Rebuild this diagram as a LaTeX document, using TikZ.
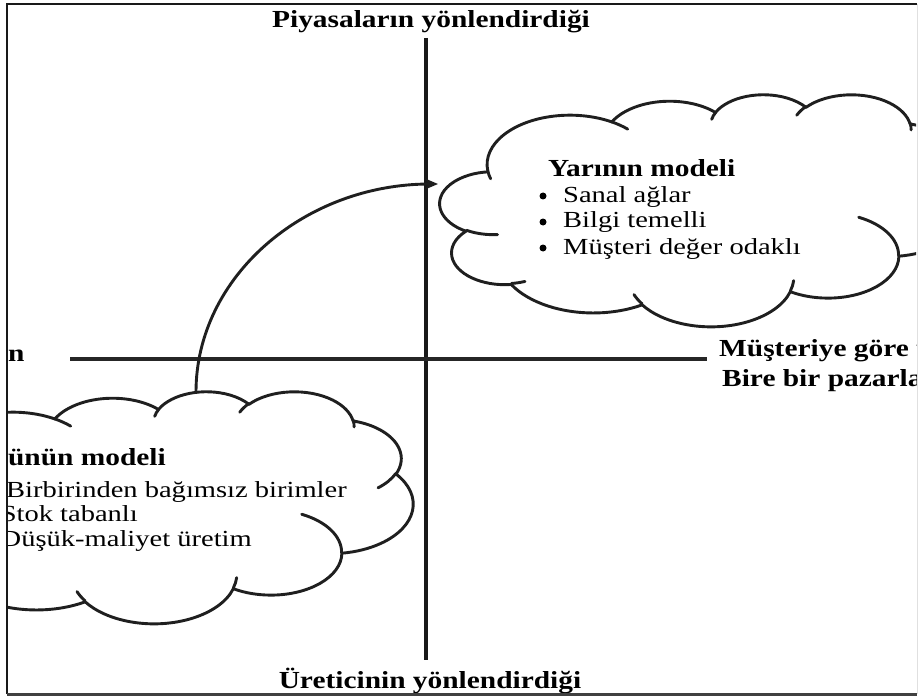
\documentclass[tikz,border=0pt]{standalone}
\usepackage{fontspec}
\setmainfont{Liberation Serif}
\newfontfamily\lbf[FakeStretch=1.2]{Liberation Serif}
\newfontfamily\lrg[FakeStretch=1.24]{Liberation Serif}
\usetikzlibrary{arrows.meta}
% elliptical arc given DrawingML-style (geometric) start angle and sweep
\newcommand\carc[4]{\pgfextra{%
 \pgfmathparse{atan2((#1)*sin(#3),(#2)*cos(#3))}\xdef\cst{\pgfmathresult}%
 \pgfmathparse{atan2((#1)*sin((#3)+(#4)),(#2)*cos((#3)+(#4)))}\xdef\cen{\pgfmathresult}%
 \pgfmathparse{Mod(\cen-(\cst),360)}\xdef\cdl{\pgfmathresult}%
 } arc[start angle=\cst, delta angle=\cdl, x radius=#1, y radius=#2]}
\newcommand\cloudshape{%
 \draw[cloudline, fill=white] (9.028,33.264)
  \carc{15.632}{21.273}{-190.487}{123.781}
  \carc{12.345}{16.822}{-144.102}{89.945}
  \carc{10.104}{13.762}{-145.808}{99.723}
  \carc{11.243}{15.266}{-130.986}{117.242}
  \carc{12.345}{16.836}{-78.709}{109.027}
  \carc{15.683}{21.343}{-46.267}{130.269}
  \carc{13.391}{18.211}{0.625}{114.033}
  \carc{15.630}{21.331}{22.452}{115.173}
  \carc{17.870}{24.405}{66.243}{75.711}
  \carc{10.093}{13.699}{-274.942}{146.736}
  \carc{10.058}{13.762}{-246.829}{152.519} -- cycle;
 \draw[cloudline] (10.863,60.595) \carc{10.058}{13.762}{86.742}{26.430};
 \draw[cloudline] (16.037,80.785) \carc{10.093}{13.699}{73.611}{11.447};
 \draw[cloudline] (38.144,90.486) \carc{15.630}{21.331}{137.624}{14.081};
 \draw[cloudline] (66.729,80.442) \carc{15.630}{21.331}{6.453}{15.998};
 \draw[cloudline] (79.002,53.134) \carc{13.391}{18.211}{-70.292}{70.917};
 \draw[cloudline] (96.755,35.542) \carc{12.345}{16.836}{30.318}{27.752};
 \draw[cloudline] (88.713,12.560) \carc{11.243}{15.266}{-13.744}{14.859};
 \draw[cloudline] (67.310,9.148) \carc{11.243}{15.266}{-149.181}{18.195};
 \draw[cloudline] (51.252,10.926) \carc{10.104}{13.762}{-163.494}{17.686};
 \draw[cloudline] (32.407,12.019) \carc{15.632}{21.273}{-66.707}{12.319};
 \draw[cloudline] (9.553,36.549) \carc{15.632}{21.273}{157.654}{11.858};
}
\tikzset{
 axisline/.style={line width=3.8pt, black!90},
 hline/.style={line width=3.2pt, black!85},
 cloudline/.style={line width=2.9pt, black!88, line join=round, line cap=round},
 arrowline/.style={line width=2.9pt, black!88, -{Stealth[length=13pt,width=11pt]}},
 lbl/.style={inner sep=0pt, font=\lbf\bfseries\fontsize{24.5}{26}\selectfont},
 itm/.style={inner sep=0pt, font=\lrg\fontsize{23}{25}\selectfont},
 dot/.style={circle, fill=black, inner sep=0pt, minimum size=7pt},
}
\begin{document}
\begin{tikzpicture}[x=1pt, y=-1pt]
\useasboundingbox (0,0) rectangle (919,698);
\begin{scope}
\clip (8,5) rectangle (916,692);
% axes
\coordinate (vtop) at (426,38);
\coordinate (vbot) at (426,660);
\coordinate (hl) at (70,359);
\coordinate (hr) at (707,359);
\draw[axisline] (vtop) -- (vbot);
\draw[hline] (hl) -- (hr);
% clouds
\begin{scope}[shift={(440,94)}, x=5.3pt, y=-2.32pt]
 \cloudshape
\end{scope}
\begin{scope}[shift={(-117,391)}, x=5.3pt, y=-2.32pt]
 \cloudshape
\end{scope}
% arrow
\coordinate (arrS) at (196,392);
\coordinate (arrE) at (438,184);
\draw[arrowline] (arrS) .. controls +(0,-115) and +(-134,0) .. (arrE);
% labels
\node[lbl, anchor=base] (top) at (431,28) {Piyasaların yönlendirdiği};
\node[lbl, anchor=base] (bot) at (430,688) {Üreticinin yönlendirdiği};
\node[lbl, anchor=base west] (rl1) at (719,356) {Müşteriye göre u};
\node[lbl, anchor=base west] (rl2) at (722,386) {Bire bir pazarla};
\node[lbl, anchor=base west] (ll) at (8,361) {n};
% right cloud text
\node[lbl, anchor=base west] (rt) at (548,177) {Yarının modeli};
\node[dot] (rd1) at (543,196) {};
\node[dot] (rd2) at (543,222) {};
\node[dot] (rd3) at (543,248) {};
\node[itm, anchor=base west] (r1) at (563,203) {Sanal ağlar};
\node[itm, anchor=base west] (r2) at (563,228) {Bilgi temelli};
\node[itm, anchor=base west] (r3) at (563,254) {Müşteri değer odaklı};
% left cloud text
\node[lbl, anchor=base east] (lt) at (166,465) {ünün modeli};
\node[itm, anchor=base east] (l1) at (347,497) {Birbirinden bağımsız birimler};
\node[itm, anchor=base east] (l2) at (138,521) {Stok tabanlı};
\node[itm, anchor=base east] (l3) at (252,546) {Düşük-maliyet üretim};
\end{scope}
% frame
\draw[line width=2.6pt, black!90] (7,694) -- (7,4) -- (917,4);
\draw[line width=1pt, black!12] (917,4) -- (917,694);
\draw[line width=3pt, black!75] (7,694) -- (917,694);
\end{tikzpicture}
\end{document}
